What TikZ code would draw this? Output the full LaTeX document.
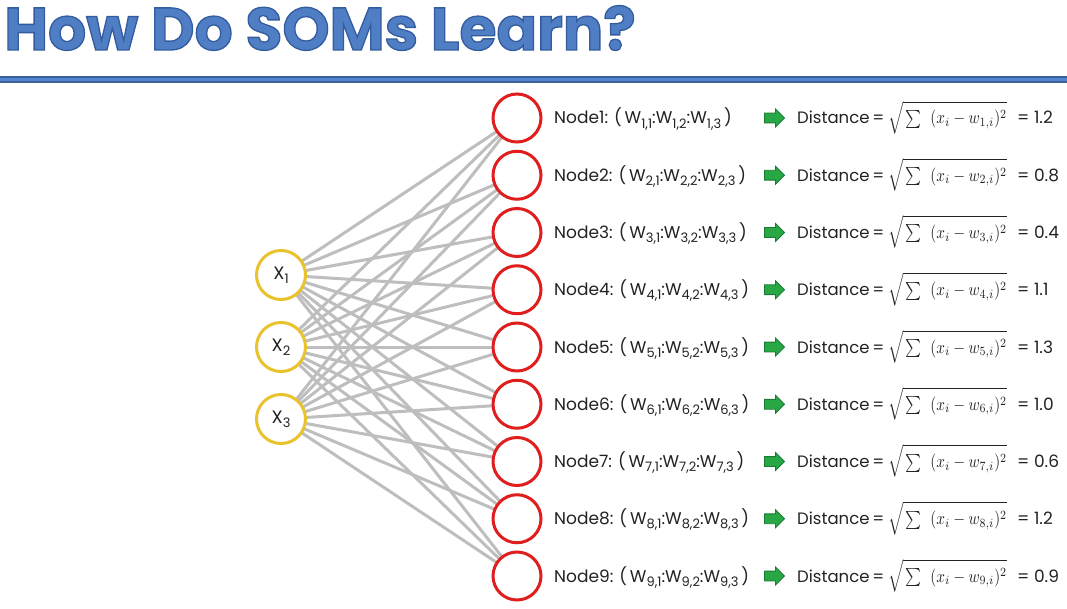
\documentclass[tikz,border=0pt]{standalone}
\usepackage{graphicx}
\usepackage{fontspec}
\setmainfont{Poppins}
\usetikzlibrary{shapes.arrows,backgrounds}

\definecolor{titleblue}{HTML}{4F7EC4}
\definecolor{ruleblue}{HTML}{5585CF}
\definecolor{ruledark}{HTML}{3A6199}
\definecolor{inyellow}{HTML}{E9C22C}
\definecolor{outred}{HTML}{E01E1E}
\definecolor{edgegray}{HTML}{BEBEBE}
\definecolor{arrowgreen}{HTML}{27A844}
\definecolor{arrowdark}{HTML}{1B7A33}
\definecolor{textgray}{HTML}{222222}

\tikzset{
  innode/.style={circle, draw=inyellow, line width=3pt, fill=white,
    minimum size=49pt, inner sep=0pt, font=\fontsize{18}{21}\selectfont, text=textgray},
  outnode/.style={circle, draw=outred, line width=3pt, fill=white,
    minimum size=48pt, inner sep=0pt},
  link/.style={draw=edgegray, line width=3pt},
  lbl/.style={anchor=base west, inner sep=0pt, font=\fontsize{17}{20}\selectfont, text=textgray},
  garrow/.style={single arrow, draw=arrowdark, fill=arrowgreen, line width=0.8pt,
    inner xsep=0pt, inner ysep=4.5pt, minimum height=20pt,
    single arrow head extend=4pt, single arrow tip angle=90},
}

% lowered index in the label font
\newcommand{\idx}[1]{\raisebox{-0.45ex}{\fontsize{13}{15}\selectfont #1}}
% Euclidean distance formula, set at 10pt and enlarged
\newcommand{\distformula}[1]{\scalebox{1.52}[1.8]{\fontsize{10}{12}\selectfont
  $\sqrt{\rule[-5.5pt]{0pt}{17pt}\sum\;\;(x_i - w_{#1,i})^2}$}}

\begin{document}
\begin{tikzpicture}[x=1pt,y=-1pt]
\useasboundingbox (0,0) rectangle (1067,609);

% heading with outlined letters
\node[anchor=base west, inner sep=0pt, text=titleblue,
      font=\fontsize{60}{62}\selectfont\bfseries] (title) at (4,50)
  {\special{pdf:literal direct 2 Tr 1.3 w 0.20 0.36 0.62 RG}How Do SOMs Learn?\special{pdf:literal direct 0 Tr}};

% heading rule
\fill[ruledark] (0,76) rectangle (1067,83);
\fill[ruleblue] (0,77.6) rectangle (1067,81.4);

% input neurons
\foreach \i/\y in {1/275,2/347,3/419}
  \node[innode] (x\i) at (281,\y) {X\idx{\i}};

% output neurons with weights and distances
\foreach \k/\d in {1/1.2,2/0.8,3/0.4,4/1.1,5/1.3,6/1.0,7/0.6,8/1.2,9/0.9}{
  \pgfmathsetmacro{\yy}{118+57.25*(\k-1)}
  \pgfmathsetmacro{\yb}{\yy+6}
  \node[outnode] (n\k) at (517,\yy) {};
  \node[lbl] (w\k) at (554,\yb)
    {Node\k: (\,W\idx{\k,1}:W\idx{\k,2}:W\idx{\k,3}\,)};
  \node[garrow] (a\k) at (772,\yy) {};
  \node[lbl, font=\fontsize{16.5}{20}\selectfont] (d\k) at (797,\yb) {Distance\,=};
  \node[lbl] (f\k) at (888,\yb) {\distformula{\k}};
  \node[lbl] (v\k) at (1017,\yb) {= \d};
}

% full connections
\begin{pgfonlayer}{background}
  \foreach \i in {1,2,3}
    \foreach \k in {1,...,9}
      \draw[link] (x\i.center) -- (n\k.center);
\end{pgfonlayer}
\end{tikzpicture}
\end{document}
